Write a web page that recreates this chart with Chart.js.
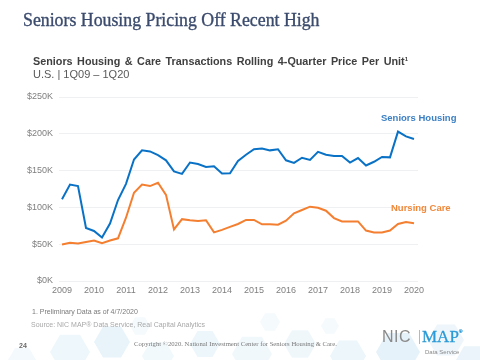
<!DOCTYPE html>
<html>
<head>
<meta charset="utf-8">
<script src="https://cdn.jsdelivr.net/npm/chart.js@4"></script>
<style>
  html, body { margin: 0; padding: 0; background: #ffffff; }
  #wrap { position: relative; width: 480px; height: 360px; overflow: hidden; background: #fff; }
  #bg { position: absolute; left: 0; top: 0; }
  #chartBox { position: absolute; left: 0; top: 0; width: 480px; height: 360px; }
  .t { position: absolute; white-space: nowrap; line-height: 1; }
  #title { left: 23px; top: 11.5px; font-family: "Liberation Serif", serif; font-size: 17.8px; color: #3b4b6d; -webkit-text-stroke: 0.35px #3b4b6d; }
  #sub1 { left: 33px; top: 56px; font-family: "Liberation Sans", Arial, sans-serif; font-weight: bold; font-size: 10.8px; word-spacing: 1.5px; color: #404040; }
  #sub1 sup { font-size: 6px; vertical-align: 4px; }
  #sub2 { left: 33px; top: 69px; font-family: "Liberation Sans", Arial, sans-serif; font-size: 11px; color: #595959; }
  #lblSH { left: 381px; top: 113px; font-family: "Liberation Sans", Arial, sans-serif; font-weight: bold; font-size: 9.5px; color: #3b7fc4; }
  #lblNC { left: 391px; top: 203px; font-family: "Liberation Sans", Arial, sans-serif; font-weight: bold; font-size: 9.5px; color: #f0883a; }
  #foot1 { left: 32px; top: 308px; font-family: "Liberation Sans", Arial, sans-serif; font-size: 7px; color: #7a7a7a; }
  #foot2 { left: 31px; top: 321px; font-family: "Liberation Sans", Arial, sans-serif; font-size: 7px; color: #a8a8a8; }
  #page { left: 19px; top: 342px; font-family: "Liberation Sans", Arial, sans-serif; font-weight: bold; font-size: 7px; color: #6a6a6a; }
  #copy { left: 134px; top: 341px; font-family: "Liberation Serif", serif; font-size: 6.7px; color: #7a7a7a; }
  #nic { left: 382px; top: 329px; font-family: "Liberation Sans", Arial, sans-serif; font-size: 16px; color: #8a8a8a; letter-spacing: 0.5px; }
  #bar { left: 419px; top: 330px; width: 1px; height: 14px; background: #b8b8b8; }
  #map { left: 422px; top: 328px; font-family: "Liberation Serif", serif; font-size: 17px; color: #2b9ad6; -webkit-text-stroke: 0.3px #2b9ad6; }
  #map sup { font-size: 5px; vertical-align: 9px; }
  #ds { left: 425px; top: 349px; font-family: "Liberation Sans", Arial, sans-serif; font-size: 6px; color: #8a8a8a; }
</style>
</head>
<body>
<div id="wrap">
  <canvas id="bg" width="480" height="360"></canvas>
  <div id="chartBox"><canvas id="c" width="480" height="360"></canvas></div>
  <div class="t" id="title">Seniors Housing Pricing Off Recent High</div>
  <div class="t" id="sub1">Seniors Housing &amp; Care Transactions Rolling 4-Quarter Price Per Unit<sup>1</sup></div>
  <div class="t" id="sub2">U.S. | 1Q09 – 1Q20</div>
  <div class="t" id="lblSH">Seniors Housing</div>
  <div class="t" id="lblNC">Nursing Care</div>
  <div class="t" id="foot1">1. Preliminary Data as of 4/7/2020</div>
  <div class="t" id="foot2">Source: NIC MAP® Data Service, Real Capital Analytics</div>
  <div class="t" id="page">24</div>
  <div class="t" id="copy">Copyright ©2020. National Investment Center for Seniors Housing &amp; Care.</div>
  <div class="t" id="nic">NIC</div>
  <div class="t" id="bar"></div>
  <div class="t" id="map">MAP<sup>®</sup></div>
  <div class="t" id="ds">Data Service</div>
</div>
<script>
// ---- Data (quarterly, 1Q09 .. 1Q20), values in $K ----
const years = ["2009","2010","2011","2012","2013","2014","2015","2016","2017","2018","2019","2020"];
const quarters = [];
for (const y of years) { for (let q = 1; q <= 4; q++) { if (y === "2020" && q > 1) break; quarters.push(q + "Q" + y.slice(2)); } }

const seniorsHousing = [111,131,129,72,68,59,78,110,132,165,177.5,176,171,164,149,145.5,161,159,155,156,146,146.5,163,171.5,179,180,177.5,179,164,160.5,167.5,164.5,175.5,171.5,170,170,161,167,157,162,168.5,168,203,196.5,193];
const nursingCare    = [49.5,52,51,53,55,51.5,55,58,86,120,131,129,133.5,117,70,84,82.5,81.5,82.5,66,69.5,73.5,77.5,83,83,77,77,76.5,82,92,96.5,101,99.5,95.5,85.5,81,81,81,68.5,66,66,68.5,77.5,80,78.5];
const yTicks = [0,50,100,150,200,250];

// ---- decorative hexagon background ----
(function(){
  const g = document.getElementById('bg').getContext('2d');
  function hex(cx, cy, r, col){
    g.beginPath();
    for (let i = 0; i < 6; i++) { const a = Math.PI/3*i; const x = cx + r*Math.cos(a), y = cy + r*Math.sin(a); i ? g.lineTo(x,y) : g.moveTo(x,y); }
    g.closePath(); g.fillStyle = col; g.fill();
  }
  const hexes = [[70,352,20,'#eef7fb'],[112,342,18,'#e8f4fa'],[158,356,16,'#f2f9fc'],[205,344,15,'#edf6fb'],[252,354,20,'#f1f8fc'],[300,344,16,'#eff7fb'],[348,356,18,'#ecf6fb'],[398,352,22,'#e6f2f9'],[446,340,18,'#eef6fb'],[472,360,16,'#eaf4fa'],[22,360,14,'#f3f9fc'],[140,326,10,'#f5fafd'],[270,322,10,'#f5fafd'],[330,326,9,'#f5fafd']];
  for (const h of hexes) hex(h[0],h[1],h[2],h[3]);
})();

// ---- chart ----
const toPts = arr => arr.map((v, i) => ({ x: i, y: v }));
const tickFont = { family: '"Liberation Sans", Arial, sans-serif', size: 9 };

new Chart(document.getElementById('c'), {
  type: 'line',
  data: {
    labels: quarters,
    datasets: [
      { label: 'Seniors Housing', data: toPts(seniorsHousing), borderColor: '#0a72c6', borderWidth: 2, pointRadius: 0, tension: 0, fill: false },
      { label: 'Nursing Care', data: toPts(nursingCare), borderColor: '#f47f30', borderWidth: 2, pointRadius: 0, tension: 0, fill: false }
    ]
  },
  options: {
    responsive: false,
    animation: false,
    events: [],
    layout: { padding: { left: 0, right: 62, top: 97, bottom: 64 } },
    plugins: { legend: { display: false }, tooltip: { enabled: false }, title: { display: false } },
    scales: {
      x: {
        type: 'linear',
        min: -0.375,
        max: 44.5,
        afterBuildTicks: s => { s.ticks = years.map((y, i) => ({ value: i * 4 })); },
        afterFit: s => { s.height = 15; },
        ticks: { callback: (v) => years[Math.round(v / 4)], color: '#7f7f7f', font: tickFont, padding: 4, maxRotation: 0, autoSkip: false },
        grid: { display: false, drawTicks: false },
        border: { display: false }
      },
      y: {
        min: 0,
        max: 250,
        afterBuildTicks: s => { s.ticks = yTicks.map(v => ({ value: v })); },
        afterFit: s => { s.width = 59; },
        ticks: { callback: v => '$' + v + 'K', color: '#7f7f7f', font: tickFont, padding: 6 },
        grid: { color: '#eef0f2', lineWidth: 1, drawTicks: false },
        border: { display: false }
      }
    }
  }
});
</script>
</body>
</html>
